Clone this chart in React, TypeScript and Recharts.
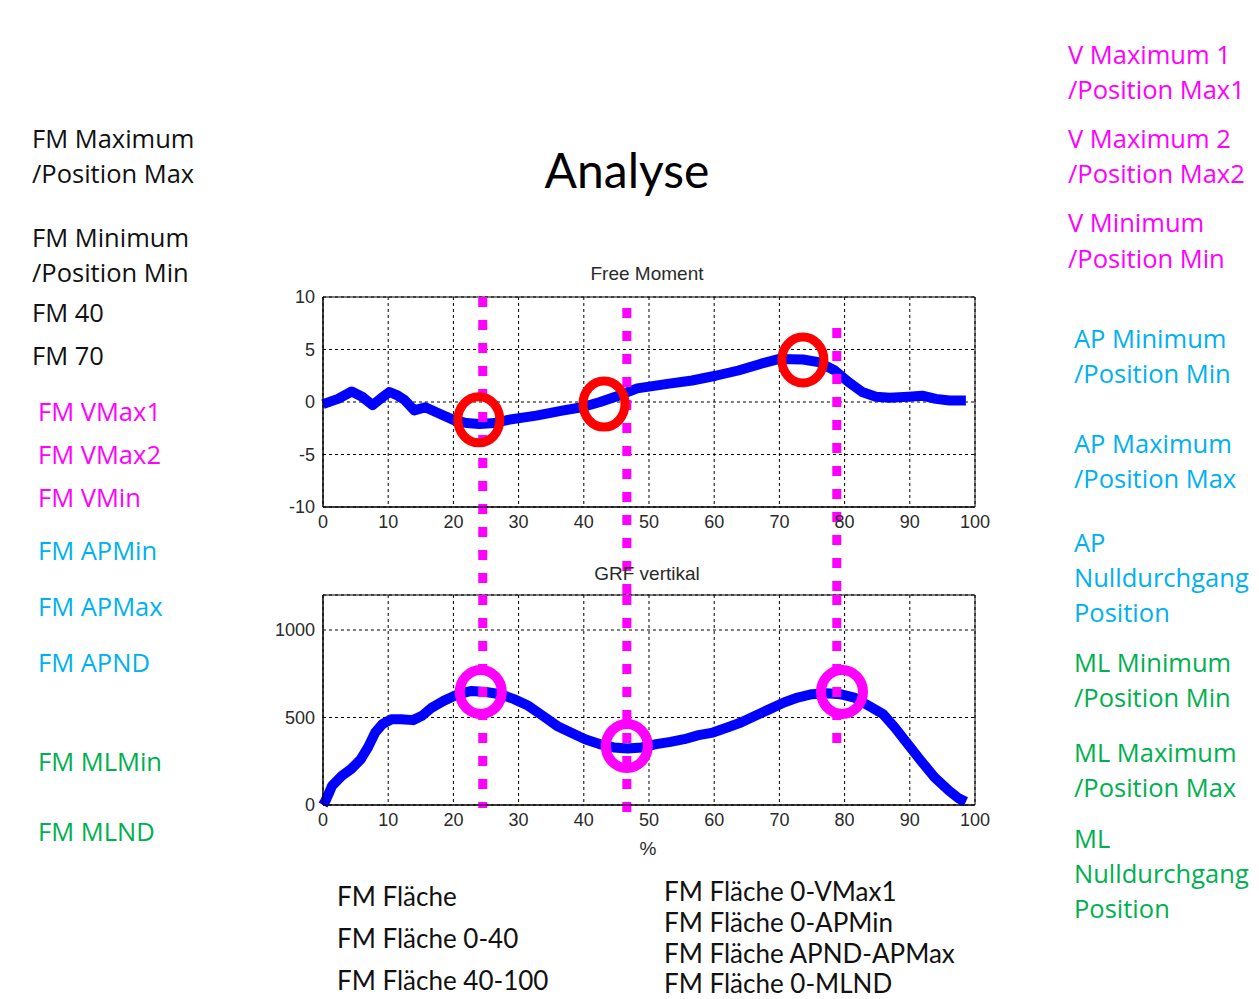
import { LineChart, Line, XAxis, YAxis, CartesianGrid, ReferenceLine, ReferenceDot, ReferenceArea } from 'recharts';

// Free Moment curve, % of stance vs value
const fmPercent = [0, 2.3, 4.4, 6, 7.6, 9, 10.2, 11.5, 12.5, 14, 15.7, 17.8, 20, 22, 24, 26.3, 28.4, 32.7, 36.9, 39.7, 42.5, 45.3, 48.2, 53.1, 56.6, 60.2, 63.7, 67.2, 70, 73.6, 76, 78.5, 80.6, 82.7, 84.8, 86.9, 89.8, 91.9, 94, 96.1, 98.6];
const fmValues = [-0.2, 0.3, 1.0, 0.5, -0.3, 0.4, 0.95, 0.6, 0.2, -0.8, -0.5, -1.1, -1.7, -2.0, -2.1, -2.0, -1.7, -1.3, -0.8, -0.5, 0, 0.6, 1.3, 1.75, 2.05, 2.5, 3.0, 3.65, 4.1, 4.05, 3.8, 3.0, 1.9, 0.95, 0.5, 0.4, 0.5, 0.6, 0.3, 0.15, 0.15];

// GRF vertikal curve
const grfPercent = [0, 0.4, 1.4, 2.9, 4.3, 5.8, 6.9, 8, 9.1, 10.5, 12, 13.8, 15.2, 16.7, 18.5, 20.7, 22.8, 25, 27.2, 29.3, 31.5, 33.7, 35.9, 38, 40.2, 42.4, 44.6, 46.7, 48.9, 51.1, 53.3, 55.4, 57.6, 59.8, 62, 64.1, 66.3, 68.5, 70.7, 72.8, 75, 77.2, 79.3, 81.5, 83.7, 85.9, 87.7, 89.5, 91.7, 93.8, 96, 97.5, 98.6];
const grfValues = [0, 25, 110, 167, 205, 262, 329, 414, 462, 490, 490, 485, 510, 557, 595, 633, 652, 646, 633, 605, 567, 510, 452, 414, 376, 348, 329, 323, 329, 348, 361, 376, 399, 414, 443, 471, 510, 548, 586, 614, 633, 639, 633, 614, 567, 519, 443, 357, 253, 158, 82, 38, 19];

const pctTicks = [0, 10, 20, 30, 40, 50, 60, 70, 80, 90, 100];
const fmTicks = [-10, -5, 0, 5, 10];
const grfTicks = [0, 500, 1000];

// red markers on Free Moment
const fmMarkX = [23.9, 43.1, 73.6];
const fmMarkY = [-1.7, -0.2, 4.0];
// magenta markers on GRF
const grfMarkX = [24.2, 46.6, 79.6];
const grfMarkY = [646, 337, 646];

// magenta dotted event lines running through both plots
const eventX = [24.5, 46.6, 78.8];
const eventTopFM = [10, 8.95, 7.05];
const eventJoinFM = -18.4;
const eventJoinGRF = 1200;
const eventBottomGRF = [-17, -86, 354];

const fmData = fmPercent.map((x, i) => ({ x, fm: fmValues[i] }));
const grfData = grfPercent.map((x, i) => ({ x, grf: grfValues[i] }));

const MAGENTA = '#FF00FF';
const CYAN = '#00B0F0';
const GREEN = '#00B050';

const sideFont = "'Open Sans', sans-serif";
const bottomFont = "Lato, sans-serif";
const axisFont = "'Liberation Sans', Arial, sans-serif";

type Txt = { t: string; x: number; y: number; c: string; f?: string };

const texts: Txt[] = [
  { t: 'FM Maximum', x: 32, y: 138, c: '#111' },
  { t: '/Position Max', x: 32, y: 173, c: '#111' },
  { t: 'FM Minimum', x: 32, y: 237, c: '#111' },
  { t: '/Position Min', x: 32, y: 272, c: '#111' },
  { t: 'FM 40', x: 32, y: 312, c: '#111' },
  { t: 'FM 70', x: 32, y: 355, c: '#111' },
  { t: 'FM VMax1', x: 38, y: 411, c: MAGENTA },
  { t: 'FM VMax2', x: 38, y: 454, c: MAGENTA },
  { t: 'FM VMin', x: 38, y: 497, c: MAGENTA },
  { t: 'FM APMin', x: 38, y: 550, c: CYAN },
  { t: 'FM APMax', x: 38, y: 606, c: CYAN },
  { t: 'FM APND', x: 38, y: 662, c: CYAN },
  { t: 'FM MLMin', x: 38, y: 761, c: GREEN },
  { t: 'FM MLND', x: 38, y: 831, c: GREEN },

  { t: 'V Maximum 1', x: 1068, y: 54, c: MAGENTA },
  { t: '/Position Max1', x: 1068, y: 89, c: MAGENTA },
  { t: 'V Maximum 2', x: 1068, y: 138, c: MAGENTA },
  { t: '/Position Max2', x: 1068, y: 173, c: MAGENTA },
  { t: 'V Minimum', x: 1068, y: 222, c: MAGENTA },
  { t: '/Position Min', x: 1068, y: 258, c: MAGENTA },
  { t: 'AP Minimum', x: 1074, y: 338, c: CYAN },
  { t: '/Position Min', x: 1074, y: 373, c: CYAN },
  { t: 'AP Maximum', x: 1074, y: 443, c: CYAN },
  { t: '/Position Max', x: 1074, y: 478, c: CYAN },
  { t: 'AP', x: 1074, y: 542, c: CYAN },
  { t: 'Nulldurchgang', x: 1074, y: 577, c: CYAN },
  { t: 'Position', x: 1074, y: 612, c: CYAN },
  { t: 'ML Minimum', x: 1074, y: 662, c: GREEN },
  { t: '/Position Min', x: 1074, y: 697, c: GREEN },
  { t: 'ML Maximum', x: 1074, y: 752, c: GREEN },
  { t: '/Position Max', x: 1074, y: 787, c: GREEN },
  { t: 'ML', x: 1074, y: 838, c: GREEN },
  { t: 'Nulldurchgang', x: 1074, y: 873, c: GREEN },
  { t: 'Position', x: 1074, y: 908, c: GREEN },

  { t: 'FM Fläche', x: 337, y: 896, c: '#111', f: bottomFont },
  { t: 'FM Fläche 0-40', x: 337, y: 938, c: '#111', f: bottomFont },
  { t: 'FM Fläche 40-100', x: 337, y: 980, c: '#111', f: bottomFont },
  { t: 'FM Fläche 0-VMax1', x: 664, y: 891, c: '#111', f: bottomFont },
  { t: 'FM Fläche 0-APMin', x: 664, y: 922, c: '#111', f: bottomFont },
  { t: 'FM Fläche APND-APMax', x: 664, y: 953, c: '#111', f: bottomFont },
  { t: 'FM Fläche 0-MLND', x: 664, y: 983, c: '#111', f: bottomFont },
];

const tickStyle = { fontSize: 18, fill: '#2a2a2a', fontFamily: axisFont };

function Ring(color: string, rx: number, ry: number, w: number) {
  return (p: any) => (
    <ellipse cx={p.cx} cy={p.cy} rx={rx} ry={ry} fill="none" stroke={color} strokeWidth={w} />
  );
}

function FreeMomentChart() {
  return (
    <LineChart width={1000} height={345} data={fmData} margin={{ top: 47, right: 25, bottom: 58, left: 263 }}>
      <CartesianGrid stroke="#000" strokeDasharray="3 3" />
      <XAxis dataKey="x" type="number" domain={[0, 100]} ticks={pctTicks} tickLine={false} axisLine={{ stroke: '#000' }} tick={tickStyle} />
      <YAxis type="number" domain={[-10, 10]} ticks={fmTicks} width={60} tickLine={false} axisLine={{ stroke: '#000' }} tick={tickStyle} />
      <ReferenceArea x1={0} x2={100} y1={-10} y2={10} fill="none" stroke="#000" strokeWidth={1} />
      <Line dataKey="fm" type="linear" stroke="#0000FF" strokeWidth={10} dot={false} strokeLinejoin="round" isAnimationActive={false} />
      {eventX.map((x, i) => (
        <ReferenceLine key={'e' + i} segment={[{ x, y: eventTopFM[i] }, { x, y: eventJoinFM }]} stroke={MAGENTA} strokeWidth={9} strokeDasharray="10 13" ifOverflow="visible" />
      ))}
      {fmMarkX.map((x, i) => (
        <ReferenceDot key={'m' + i} x={x} y={fmMarkY[i]} r={21} ifOverflow="visible" shape={Ring('#FF0000', 21, 23, 9)} />
      ))}
    </LineChart>
  );
}

function GrfChart() {
  return (
    <LineChart width={1000} height={275} data={grfData} margin={{ top: 10, right: 25, bottom: 25, left: 263 }}>
      <CartesianGrid stroke="#000" strokeDasharray="3 3" />
      <XAxis dataKey="x" type="number" domain={[0, 100]} ticks={pctTicks} tickLine={false} axisLine={{ stroke: '#000' }} tick={tickStyle} />
      <YAxis type="number" domain={[0, 1200]} ticks={grfTicks} width={60} tickLine={false} axisLine={{ stroke: '#000' }} tick={tickStyle} />
      <ReferenceArea x1={0} x2={100} y1={0} y2={1200} fill="none" stroke="#000" strokeWidth={1} />
      <Line dataKey="grf" type="linear" stroke="#0000FF" strokeWidth={10} dot={false} strokeLinejoin="round" isAnimationActive={false} />
      {eventX.map((x, i) => (
        <ReferenceLine key={'e' + i} segment={[{ x, y: eventJoinGRF }, { x, y: eventBottomGRF[i] }]} stroke={MAGENTA} strokeWidth={9} strokeDasharray="10 13" ifOverflow="visible" />
      ))}
      {grfMarkX.map((x, i) => (
        <ReferenceDot key={'m' + i} x={x} y={grfMarkY[i]} r={21} ifOverflow="visible" shape={Ring(MAGENTA, 21, 22, 10)} />
      ))}
    </LineChart>
  );
}

export default function App() {
  return (
    <div style={{ position: 'absolute', left: 0, top: 0, width: 1259, height: 999, background: '#fff', overflow: 'hidden' }}>
      <div style={{ position: 'absolute', left: 0, top: 250 }}>
        <FreeMomentChart />
      </div>
      <div style={{ position: 'absolute', left: 0, top: 585 }}>
        <GrfChart />
      </div>

      <div style={{ position: 'absolute', left: 527, top: 170, width: 200, textAlign: 'center', transform: 'translateY(-50%)', fontFamily: bottomFont, fontSize: 48, lineHeight: '48px', color: '#000' }}>Analyse</div>
      <div style={{ position: 'absolute', left: 547, top: 273, width: 200, textAlign: 'center', transform: 'translateY(-50%)', fontFamily: axisFont, fontSize: 19, lineHeight: '19px', color: '#2a2a2a' }}>Free Moment</div>
      <div style={{ position: 'absolute', left: 547, top: 573, width: 200, textAlign: 'center', transform: 'translateY(-50%)', fontFamily: axisFont, fontSize: 19, lineHeight: '19px', color: '#2a2a2a' }}>GRF vertikal</div>
      <div style={{ position: 'absolute', left: 598, top: 848, width: 100, textAlign: 'center', transform: 'translateY(-50%)', fontFamily: axisFont, fontSize: 19, lineHeight: '19px', color: '#2a2a2a' }}>%</div>

      {texts.map((d, i) => (
        <div key={i} style={{ position: 'absolute', left: d.x, top: d.y, transform: 'translateY(-50%)', whiteSpace: 'nowrap', fontFamily: d.f || sideFont, fontSize: d.f ? 26 : 25.5, lineHeight: d.f ? '26px' : '30px', color: d.c }}>
          {d.t}
        </div>
      ))}
    </div>
  );
}
